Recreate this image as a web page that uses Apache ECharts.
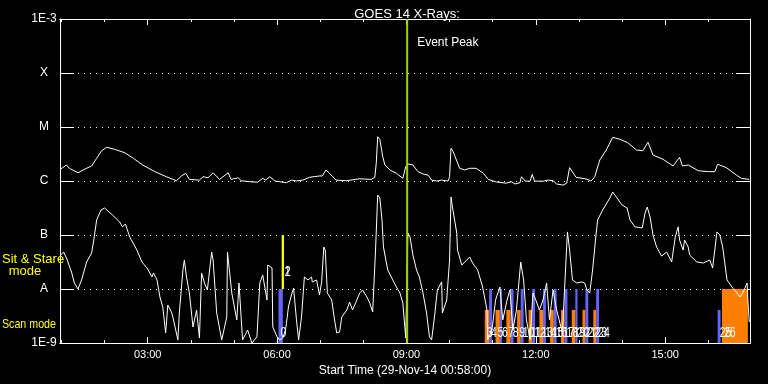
<!DOCTYPE html>
<html><head><meta charset="utf-8">
<script src="https://cdn.jsdelivr.net/npm/echarts@6/dist/echarts.min.js"></script>
<style>html,body{margin:0;padding:0;background:#000;}#c{width:768px;height:384px;}</style>
</head><body><div id="c"></div>
<script>
// ---------- data ----------
const chartTitle = 'GOES 14 X-Rays:';
const xAxisName = 'Start Time (29-Nov-14 00:58:00)';
const xStart = '00:58', xEnd = '16:58';
const xTickLabels = ['03:00', '06:00', '09:00', '12:00', '15:00'];
const xMinorTicks = ['01:00','02:00','03:00','04:00','05:00','06:00','07:00','08:00','09:00','10:00','11:00','12:00','13:00','14:00','15:00','16:00'];
const yTickValues = [1e-9, 1e-8, 1e-7, 1e-6, 1e-5, 1e-4, 1e-3];
const yTickLabels = ['1E-9', 'A', 'B', 'C', 'M', 'X', '1E-3'];

// GOES long channel (1-8 A)
const longTimes = ['00:59','01:07','01:11','01:23','01:32','01:42','01:49','01:56','02:03','02:14',
'02:28','02:40','02:53','03:10','03:26','03:40','03:47','03:53','03:58','04:12',
'04:17','04:24','04:31','04:40','04:52','04:56','05:06','05:10','05:22','05:33',
'05:40','05:44','05:50','05:57','06:06','06:13','06:20','06:27','06:36','06:45',
'06:59','07:03','07:08','07:13','07:22','07:36','07:55','08:11','08:16','08:18',
'08:20','08:23','08:27','08:30','08:37','08:46','08:55','08:59','09:02','09:09',
'09:16','09:23','09:30','09:35','09:42','09:49','09:58','10:00','10:02','10:05',
'10:14','10:21','10:28','10:37','10:47','10:54','11:05','11:19','11:26','11:31',
'11:38','11:40','11:45','11:52','11:55','11:58','12:10','12:17','12:24','12:29',
'12:38','12:43','12:47','12:56','13:10','13:17','13:22','13:29','13:38','13:47',
'13:57','14:08','14:20','14:29','14:36','14:43','14:57','15:11','15:20','15:24',
'15:32','15:46','16:00','16:09','16:13','16:25','16:39','16:46','16:57'];
const longFlux = [1.67e-6,1.98e-6,1.72e-6,1.42e-6,1.65e-6,1.90e-6,2.63e-6,3.64e-6,4.21e-6,3.86e-6,
3.34e-6,2.63e-6,1.98e-6,1.49e-6,1.20e-6,1.01e-6,1.24e-6,1.39e-6,1.07e-6,1.04e-6,
1.20e-6,1.15e-6,1.42e-6,1.07e-6,1.42e-6,1.07e-6,1.15e-6,1.01e-6,9.7e-7,9.5e-7,
1.12e-6,1.04e-6,1.20e-6,1.0e-6,9.6e-7,9.3e-7,1.04e-6,1.0e-6,1.04e-6,1.17e-6,
1.24e-6,1.24e-6,1.60e-6,1.39e-6,1.04e-6,1.01e-6,1.10e-6,1.07e-6,1.17e-6,2.13e-6,
6.61e-6,5.92e-6,2.82e-6,1.98e-6,1.60e-6,1.39e-6,1.12e-6,1.84e-6,2.07e-6,1.98e-6,
1.49e-6,1.35e-6,1.29e-6,1.04e-6,1.0e-6,1.04e-6,1.0e-6,1.20e-6,4.03e-6,3.49e-6,
1.72e-6,1.60e-6,1.72e-6,1.72e-6,1.39e-6,1.07e-6,9.6e-7,9.1e-7,9.7e-7,8.8e-7,
9.3e-7,1.20e-6,1.0e-6,9.9e-7,1.33e-6,1.0e-6,9.9e-7,1.04e-6,1.01e-6,8.8e-7,
8.4e-7,9.1e-7,1.77e-6,1.17e-6,1.09e-6,1.0e-6,1.20e-6,2.45e-6,3.75e-6,6.44e-6,
5.92e-6,5.12e-6,3.75e-6,3.64e-6,5.21e-6,3.03e-6,2.52e-6,1.90e-6,2.75e-6,1.90e-6,
1.98e-6,1.55e-6,1.49e-6,1.49e-6,2.04e-6,1.77e-6,1.29e-6,1.12e-6,1.07e-6];

// GOES short channel (0.5-4 A)
const shortTimes = ['00:59','01:03','01:07','01:14','01:18','01:23','01:28','01:35','01:42','01:45',
'01:49','01:55','02:00','02:11','02:21','02:25','02:29','02:35','02:45','02:52',
'02:59','03:06','03:08','03:13','03:17','03:21','03:25','03:28','03:33','03:35',
'03:39','03:42','03:44','03:49','03:51','03:54','03:58','04:03','04:08','04:12',
'04:15','04:19','04:23','04:29','04:31','04:36','04:43','04:50','04:51','04:57',
'05:04','05:07','05:12','05:19','05:25','05:32','05:36','05:40','05:46','05:47',
'05:53','05:54','06:00','06:04','06:08','06:12','06:16','06:20','06:23','06:27',
'06:30','06:34','06:38','06:43','06:48','06:49','06:55','06:59','07:02','07:05',
'07:07','07:10','07:16','07:20','07:23','07:27','07:30','07:37','07:41','07:45',
'07:51','07:55','07:59','08:05','08:09','08:13','08:17','08:20','08:23','08:26',
'08:28','08:34','08:41','08:46','08:51','08:55','08:59','09:02','09:05','09:09',
'09:14','09:18','09:23','09:28','09:32','09:35','09:39','09:43','09:49','09:50',
'09:56','10:00','10:02','10:04','10:10','10:11','10:17','10:24','10:28','10:32',
'10:39','10:46','10:52','10:53','10:59','11:04','11:10','11:14','11:20','11:24',
'11:28','11:33','11:39','11:43','11:47','11:52','11:56','12:00','12:05','12:10',
'12:15','12:19','12:24','12:29','12:37','12:42','12:44','12:47','12:51','12:57',
'13:04','13:08','13:11','13:15','13:19','13:23','13:26','13:33','13:43','13:47',
'13:53','14:00','14:07','14:11','14:18','14:28','14:32','14:35','14:39','14:43',
'14:48','14:55','15:02','15:09','15:14','15:18','15:20','15:25','15:27','15:32',
'15:34','15:44','15:53','16:02','16:06','16:12','16:16','16:20','16:26','16:34',
'16:40','16:44','16:48','16:54','16:55','16:57'];
const shortFlux = [4.26e-8,4.84e-8,3.75e-8,2.06e-8,1.29e-8,1.0e-8,1.47e-8,3.16e-8,4.64e-8,8.07e-8,
1.90e-7,2.90e-7,3.16e-7,2.35e-7,1.74e-7,1.41e-7,1.60e-7,9.18e-8,5.27e-8,3.16e-8,
2.45e-8,1.67e-8,1.98e-8,1.47e-8,7.11e-9,4.64e-9,1.53e-9,5.05e-9,3.75e-9,3.03e-9,
1.74e-9,1.14e-9,3.59e-9,2.25e-8,3.44e-8,1.67e-8,8.43e-9,1.98e-9,4.08e-9,1.24e-9,
1.98e-8,1.29e-8,9.58e-9,4.84e-8,3.44e-8,3.59e-9,1.14e-9,3.03e-9,4.84e-8,8.43e-9,
2.67e-9,1.29e-8,1.14e-9,1.74e-9,1.0e-9,1.3e-9,1.29e-8,1.82e-8,6.25e-9,2.78e-8,
2.45e-8,1.98e-9,1.3e-9,1.14e-9,1.24e-9,1.8e-9,4.84e-9,7.74e-9,1.04e-8,2.67e-9,
1.14e-9,3.03e-9,1.67e-8,1.47e-8,1.67e-8,1.35e-8,1.47e-8,7.74e-9,1.35e-8,6.0e-8,
5.27e-8,8.43e-9,6.25e-9,2.67e-9,1.53e-9,1.6e-9,3.03e-9,4.08e-9,5.74e-9,4.08e-9,
6.25e-9,8.43e-9,9.58e-9,7.11e-9,5.5e-9,3.75e-9,5.27e-8,5.5e-7,4.84e-7,1.90e-7,
6.0e-8,2.25e-8,1.47e-8,1.09e-8,8.43e-9,5.5e-9,1.24e-9,1.09e-7,9.18e-8,4.26e-8,
2.25e-8,1.67e-8,8.43e-9,3.59e-9,1.3e-9,1.14e-9,3.03e-9,9.58e-9,1.35e-8,3.59e-9,
6.25e-9,3.44e-8,5.05e-7,3.30e-7,1.09e-7,5.27e-8,2.78e-8,3.44e-8,3.91e-8,3.03e-8,
2.25e-8,1.09e-8,4.08e-9,1.14e-9,1.74e-9,6.25e-9,1.09e-8,2.67e-9,6.25e-9,9.58e-9,
1.74e-9,4.08e-9,3.16e-8,1.47e-8,2.67e-9,1.14e-9,8.43e-9,6.25e-9,4.08e-9,6.25e-9,
1.29e-8,2.67e-9,9.58e-9,4.08e-9,1.53e-9,3.44e-8,1.14e-7,5.27e-8,1.47e-8,1.29e-8,
1.35e-8,1.29e-8,9.58e-9,8.43e-9,2.25e-8,8.07e-8,1.90e-7,2.90e-7,4.84e-7,6.25e-7,
4.84e-7,3.59e-7,3.16e-7,1.90e-7,1.41e-7,1.35e-7,2.55e-7,3.30e-7,2.15e-7,1.0e-7,
6.0e-8,4.08e-8,4.84e-8,3.16e-8,9.18e-8,1.41e-7,8.07e-8,5.27e-8,8.07e-8,6.0e-8,
4.26e-8,3.16e-8,3.03e-8,3.44e-8,2.45e-8,1.14e-7,1.0e-7,6.0e-8,1.47e-8,1.04e-8,
8.43e-9,7.11e-9,8.43e-9,1.29e-8,6.25e-9,2.45e-9];

const eventPeakTime = '09:01';
const eventPeakLabel = 'Event Peak';

// observations: index, start, end, colour key, top of mark
const obsIndex = [0,1,2,3,4,5,6,7,8,9,10,11,12,13,14,15,16,17,18,19,20,21,22,23,24,25,26];
const obsStart = ['06:02','06:08','06:08','10:49','10:55','11:04','11:10','11:19','11:25','11:34','11:39','11:50','11:55','12:05','12:10','12:20','12:25','12:35','12:40','12:50','12:55','13:05','13:09','13:20','13:24','16:13','16:19'];
const obsEnd   = ['06:08','06:08','06:08','10:55','10:59','11:10','11:13','11:25','11:29','11:39','11:43','11:55','11:59','12:10','12:14','12:25','12:29','12:40','12:44','12:55','12:58','13:09','13:13','13:24','13:28','16:17','16:55'];
const obsColor = ['blue','yellow','yellow','orange','blue','orange','blue','orange','blue','orange','blue','orange','blue','orange','blue','orange','blue','orange','blue','orange','blue','orange','blue','orange','blue','blue','orange'];
const obsTop   = [1e-8,1e-7,1e-7,4.1e-9,1e-8,4.1e-9,1e-8,4.1e-9,1e-8,4.1e-9,1e-8,4.1e-9,1e-8,4.1e-9,1e-8,4.1e-9,1e-8,4.1e-9,1e-8,4.1e-9,1e-8,4.1e-9,1e-8,4.1e-9,1e-8,4.1e-9,1e-8];

const modeLabels = ['Sit & Stare', 'mode', 'Scan mode'];

// ---------- helpers ----------
const FONT = '"Liberation Sans", Arial, sans-serif';
const COLORS = {blue: '#6464ff', orange: '#ff8000', yellow: '#ffff00'};
const toMin = s => { const p = s.split(':').map(Number); return p[0] * 60 + p[1]; };
const fmtTime = v => { const h = Math.floor(v / 60), m = Math.round(v - h * 60); return String(h).padStart(2, '0') + ':' + String(m).padStart(2, '0'); };
const yLabel = v => { const e = Math.round(Math.log10(v)); const i = yTickValues.findIndex(t => Math.round(Math.log10(t)) === e); return i >= 0 ? yTickLabels[i] : ''; };

const longData = longTimes.map((t, i) => [toMin(t), longFlux[i]]);
const shortData = shortTimes.map((t, i) => [toMin(t), shortFlux[i]]);
const obsData = obsIndex.map((k, i) => [toMin(obsStart[i]), toMin(obsEnd[i]), obsTop[i], k, obsColor[i]]);
const majorTicks = xTickLabels.map(toMin);
const minorTicks = xMinorTicks.map(toMin);
const yMin = yTickValues[0], yMax = yTickValues[yTickValues.length - 1];

const xBase = {
  type: 'value', gridIndex: 0, min: toMin(xStart), max: toMin(xEnd),
  splitLine: {show: false},
  axisLine: {show: true, onZero: false, lineStyle: {color: '#fff', width: 1}}
};
const yBase = {
  type: 'log', logBase: 10, min: yMin, max: yMax, splitNumber: 6, gridIndex: 0,
  axisLine: {show: true, onZero: false, lineStyle: {color: '#fff', width: 1}},
  axisTick: {show: true, inside: true, length: 14, lineStyle: {color: '#fff', width: 1}}
};

const chart = echarts.init(document.getElementById('c'), null, {renderer: 'canvas'});
chart.setOption({
  animation: false,
  backgroundColor: '#000',
  title: {
    text: chartTitle, left: 402, top: 3, textAlign: 'center',
    textStyle: {color: '#fff', fontSize: 13, fontWeight: 'normal', fontFamily: FONT}
  },
  grid: {left: 60, right: 18, top: 19, bottom: 41, containLabel: false},
  xAxis: [
    Object.assign({}, xBase, {
      position: 'bottom',
      axisTick: {show: true, inside: true, length: 6, customValues: majorTicks, lineStyle: {color: '#fff'}},
      axisLabel: {show: true, customValues: majorTicks, formatter: fmtTime, color: '#fff', fontSize: 11, fontFamily: FONT, margin: 6},
      name: xAxisName, nameLocation: 'middle', nameGap: 18,
      nameTextStyle: {color: '#fff', fontSize: 12, fontFamily: FONT}
    }),
    Object.assign({}, xBase, {
      position: 'top',
      axisTick: {show: true, inside: true, length: 6, customValues: majorTicks, lineStyle: {color: '#fff'}},
      axisLabel: {show: false}
    }),
    Object.assign({}, xBase, {
      position: 'bottom',
      axisTick: {show: true, inside: true, length: 3, customValues: minorTicks, lineStyle: {color: '#fff'}},
      axisLabel: {show: false}
    }),
    Object.assign({}, xBase, {
      position: 'top',
      axisTick: {show: true, inside: true, length: 3, customValues: minorTicks, lineStyle: {color: '#fff'}},
      axisLabel: {show: false}
    })
  ],
  yAxis: [
    Object.assign({}, yBase, {
      position: 'left',
      axisLabel: {show: true, color: '#fff', fontSize: 12, fontFamily: FONT, align: 'center', margin: 16,
        formatter: yLabel, verticalAlignMaxLabel: 'top'},
      splitLine: {show: true, lineStyle: {color: '#fff', width: 1, type: [1, 5]}}
    }),
    Object.assign({}, yBase, {
      position: 'right',
      axisLabel: {show: false},
      splitLine: {show: false}
    })
  ],
  graphic: [
    {type: 'text', x: 2, y: 259, z: 10, style: {text: modeLabels[0], fill: '#ffff00', font: '13px ' + FONT, verticalAlign: 'middle'}},
    {type: 'text', x: 25, y: 271, z: 10, style: {text: modeLabels[1], fill: '#ffff00', font: '13px ' + FONT, verticalAlign: 'middle', align: 'center'}},
    {type: 'text', x: 2, y: 324, z: 10, scaleX: 0.82, style: {text: modeLabels[2], fill: '#ffff00', font: '13px ' + FONT, verticalAlign: 'middle'}}
  ],
  series: [
    {
      type: 'custom', xAxisIndex: 0, yAxisIndex: 0, clip: true, z: 1,
      data: obsData,
      encode: {x: [0, 1], y: 2},
      renderItem: (params, api) => {
        const t0 = api.value(0), t1 = api.value(1), top = api.value(2);
        const col = obsData[params.dataIndex][4];
        if (col === 'yellow') {
          const a = api.coord([t0, yTickValues[1]]), b = api.coord([t0, top]);
          return {type: 'line', shape: {x1: a[0], y1: a[1], x2: b[0], y2: b[1]},
            style: {stroke: COLORS.yellow, lineWidth: 2}};
        }
        const p0 = api.coord([t0, top]), p1 = api.coord([t1, yMin]);
        return {type: 'rect', shape: {x: p0[0], y: p0[1], width: Math.max(1, p1[0] - p0[0]), height: p1[1] - p0[1]},
          style: {fill: COLORS[col]}};
      }
    },
    {
      type: 'line', xAxisIndex: 0, yAxisIndex: 0, data: longData, symbol: 'none', z: 2,
      lineStyle: {color: '#fff', width: 1}, itemStyle: {color: '#fff'}, clip: true
    },
    {
      type: 'line', xAxisIndex: 0, yAxisIndex: 0, data: shortData, symbol: 'none', z: 2,
      lineStyle: {color: '#fff', width: 1}, itemStyle: {color: '#fff'}, clip: true
    },
    {
      type: 'custom', xAxisIndex: 0, yAxisIndex: 0, z: 3, clip: false,
      data: [[toMin(eventPeakTime), 1e-6]],
      encode: {x: 0, y: 1},
      renderItem: (params, api) => {
        const t = api.value(0);
        const a = api.coord([t, yMin]), b = api.coord([t, yMax]);
        return {type: 'group', children: [
          {type: 'line', shape: {x1: a[0], y1: a[1], x2: b[0], y2: b[1]}, style: {stroke: '#a2d200', lineWidth: 2}},
          {type: 'text', x: b[0] + 10, y: b[1] + 24, style: {text: eventPeakLabel, fill: '#fff', font: '12px ' + FONT, verticalAlign: 'middle'}}
        ]};
      }
    },
    {
      type: 'custom', xAxisIndex: 0, yAxisIndex: 0, z: 4, clip: false,
      data: obsData,
      encode: {x: [0, 1], y: 2},
      renderItem: (params, api) => {
        const t0 = api.value(0);
        const item = obsData[params.dataIndex];
        let x, y;
        if (item[4] === 'yellow') {
          const a = api.coord([t0, yTickValues[1]]);
          x = a[0] + 2; y = a[1] - 17;
        } else {
          const a = api.coord([t0, yMin]);
          x = a[0] + 2; y = a[1] - 10.5;
        }
        return {type: 'text', x: x, y: y, scaleX: 0.7,
          style: {text: String(item[3]), fill: '#fff', font: '15px ' + FONT, verticalAlign: 'middle', align: 'left'}};
      }
    }
  ]
});
</script>
</body></html>
